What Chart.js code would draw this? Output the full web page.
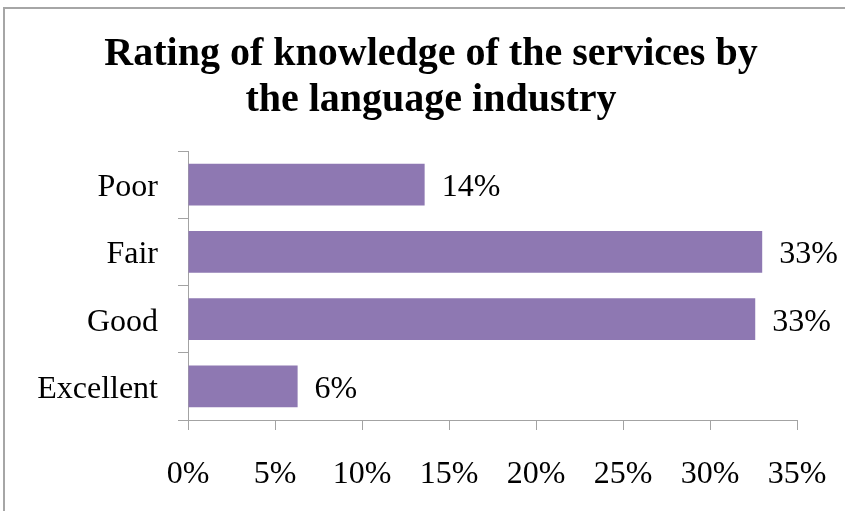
<!DOCTYPE html>
<html>
<head>
<meta charset="utf-8">
<script src="https://cdn.jsdelivr.net/npm/chart.js@4"></script>
<style>
  html, body { margin: 0; padding: 0; background: #fff; }
  #wrap { position: relative; width: 845px; height: 511px; }
</style>
</head>
<body>
<div id="wrap"><canvas id="chart" width="845" height="511"></canvas></div>
<script>
const categories = ["Poor", "Fair", "Good", "Excellent"];
const shares = [13.6, 33.0, 32.6, 6.3];
const xTicks = [0, 5, 10, 15, 20, 25, 30, 35];
const titleLines = ["Rating of knowledge of the services by", "the language industry"];

const serif = "'Liberation Serif', 'Times New Roman', serif";
const axisGrey = "#a3a3a3";

// white background and the outer frame of the chart object
const framePlugin = {
  id: "frame",
  beforeDraw(chart) {
    const c = chart.ctx;
    c.save();
    c.fillStyle = "#fff";
    c.fillRect(0, 0, chart.width, chart.height);
    c.strokeStyle = "#a6a6a6";
    c.lineWidth = 2;
    c.strokeRect(4, 8, chart.width + 10, chart.height + 10);
    c.restore();
  }
};

// two-line bold title, centred a little right of the canvas middle
const titlePlugin = {
  id: "bigTitle",
  afterDraw(chart) {
    const c = chart.ctx;
    c.save();
    c.font = "bold 40px " + serif;
    c.fillStyle = "#000";
    c.textAlign = "center";
    c.textBaseline = "alphabetic";
    titleLines.forEach((line, i) => {
      c.fillText(line, 431, 65 + i * 46);
    });
    c.restore();
  }
};

// percentage labels at the end of each bar
const valueLabels = {
  id: "valueLabels",
  afterDatasetsDraw(chart) {
    const c = chart.ctx;
    const meta = chart.getDatasetMeta(0);
    c.save();
    c.font = "32px " + serif;
    c.fillStyle = "#000";
    c.textAlign = "left";
    c.textBaseline = "middle";
    meta.data.forEach((bar, i) => {
      c.fillText(Math.round(shares[i]) + "%", bar.x + 17, bar.y + 3);
    });
    c.restore();
  }
};

const ctx = document.getElementById("chart");

new Chart(ctx, {
  type: "bar",
  data: {
    labels: categories,
    datasets: [{
      data: shares,
      backgroundColor: "#8e78b2",
      borderWidth: 0,
      barPercentage: 0.62,
      categoryPercentage: 1
    }]
  },
  options: {
    indexAxis: "y",
    responsive: false,
    animation: false,
    events: [],
    layout: { padding: { left: 0, right: 48, top: 151, bottom: 0 } },
    plugins: {
      legend: { display: false },
      tooltip: { enabled: false },
      title: { display: false }
    },
    scales: {
      x: {
        min: 0,
        max: 35,
        afterBuildTicks(scale) {
          scale.ticks = xTicks.map(v => ({ value: v }));
        },
        afterFit(scale) { scale.height = 91; },
        grid: {
          drawOnChartArea: false,
          color: axisGrey,
          tickLength: 10
        },
        border: { color: axisGrey, width: 1 },
        ticks: {
          color: "#000",
          font: { family: serif, size: 32, lineHeight: 1.64 },
          padding: 18,
          callback: v => v + "%"
        }
      },
      y: {
        afterFit(scale) { scale.width = 188; },
        grid: {
          drawOnChartArea: false,
          color: axisGrey,
          tickLength: 10
        },
        border: { color: axisGrey, width: 1 },
        ticks: {
          color: "#000",
          font: { family: serif, size: 32 },
          padding: 20,
          labelOffset: 3
        }
      }
    }
  },
  plugins: [framePlugin, titlePlugin, valueLabels]
});
</script>
</body>
</html>
